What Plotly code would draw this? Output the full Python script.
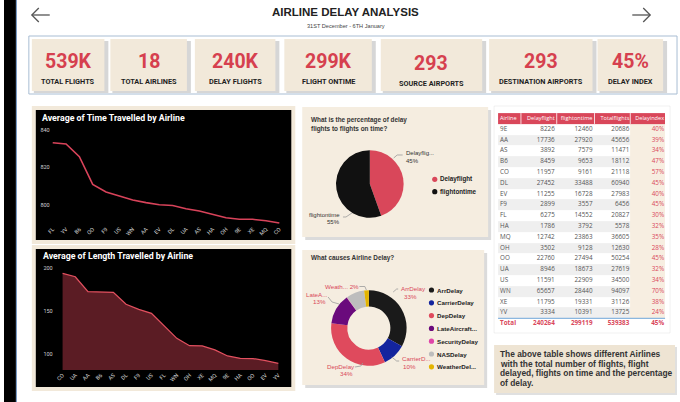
import plotly.graph_objects as go

W, H = 680, 402

# ---- data ----
kpi_values = ["539K", "18", "240K", "299K", "293", "293", "45%"]
kpi_labels = ["TOTAL FLIGHTS", "TOTAL AIRLINES", "DELAY FLIGHTS", "FLIGHT ONTIME",
              "SOURCE AIRPORTS", "DESTINATION AIRPORTS", "DELAY INDEX"]

time_airlines = ["FL", "YV", "B6", "OO", "F9", "US", "WN", "AA", "EV", "DL",
                 "UA", "AS", "HA", "OH", "9E", "XE", "MQ", "CO"]
time_avg = [833.2, 832.6, 825.8, 811.0, 807.0, 804.9, 802.7, 801.3, 800.2, 799.8,
            798.0, 796.8, 795.2, 793.2, 792.4, 792.4, 791.6, 790.4]

length_airlines = ["CO", "UA", "AA", "B6", "AS", "DL", "F9", "US", "FL", "WN",
                   "OH", "XE", "MQ", "9E", "HA", "OO", "EV", "YV"]
length_avg = [194.2, 190.2, 172.7, 172.7, 172.0, 158.0, 152.0, 147.4, 132.6, 118.2,
              109.6, 109.3, 104.6, 97.6, 94.9, 94.6, 92.1, 89.0]

flight_status = ["Delayflight", "flightontime"]
flight_counts = [240264, 299119]

delay_causes = ["ArrDelay", "CarrierDelay", "DepDelay", "LateAircraftDelay",
                "SecurityDelay", "NASDelay", "WeatherDelay"]
cause_legend = ["ArrDelay", "CarrierDelay", "DepDelay", "LateAircraft...",
                "SecurityDelay", "NASDelay", "WeatherDel..."]
delay_share = [33, 10, 34, 13, 0.2, 7.8, 2]

table_airline = ["9E", "AA", "AS", "B6", "CO", "DL", "EV", "F9", "FL", "HA",
                 "MQ", "OH", "OO", "UA", "US", "WN", "XE", "YV"]
table_delay = [8226, 17736, 3892, 8459, 11957, 27452, 11255, 2899, 6275, 1786,
               12742, 3502, 22760, 8946, 11591, 65657, 11795, 3334]
table_ontime = [12460, 27920, 7579, 9653, 9161, 33488, 16728, 3557, 14552, 3792,
                23863, 9128, 27494, 18673, 22909, 28440, 19331, 10391]
table_total = [20686, 45656, 11471, 18112, 21118, 60940, 27983, 6456, 20827, 5578,
               36605, 12630, 50254, 27619, 34500, 94097, 31126, 13725]
table_index = [40, 39, 34, 47, 57, 45, 40, 45, 30, 32,
               35, 28, 45, 32, 34, 70, 38, 24]
table_headers = ["Airline", "Delayflight", "flightontime", "Totalflights", "Delayindex"]

RED = "#d9475a"
BEIGE = "#f2e9da"
ROBOTO = "Roboto, sans-serif"
ARIAL = "Liberation Sans, Arial, sans-serif"
SEGOE = "Open Sans, sans-serif"


def X(px):
    return px / W


def Y(py):
    return 1 - py / H


shapes = []
annotations = []


def box(x0, y0, x1, y1, fill, line=None, layer="below"):
    shapes.append(dict(type="rect", xref="paper", yref="paper",
                       x0=X(x0), x1=X(x1), y0=Y(y1), y1=Y(y0),
                       fillcolor=fill, layer=layer,
                       line=dict(width=1 if line else 0, color=line or fill)))


def path(points, color="#9a9a9a", width=0.8):
    d = "M " + " L ".join(f"{X(a):.5f},{Y(b):.5f}" for a, b in points)
    shapes.append(dict(type="path", xref="paper", yref="paper", path=d,
                       line=dict(color=color, width=width), layer="above"))


def dot(cx, cy, color, r=2.6):
    shapes.append(dict(type="circle", xref="paper", yref="paper",
                       x0=X(cx - r), x1=X(cx + r), y0=Y(cy + r), y1=Y(cy - r),
                       fillcolor=color, line=dict(width=0), layer="above"))


def label(x, y, text, size, color="#333", family=ARIAL, xanchor="center"):
    annotations.append(dict(x=X(x), y=Y(y), xref="paper", yref="paper", text=text,
                            showarrow=False, xanchor=xanchor, yanchor="middle",
                            font=dict(size=size, color=color, family=family)))


# ---- page chrome ----
box(0, 0, 12, H, "black")
shapes.append(dict(type="line", xref="paper", yref="paper", x0=X(12.5), x1=X(12.5),
                   y0=0, y1=1, line=dict(color="#6f93c2", width=1)))

for pts in ([(46, 15), (28, 15)], [(35, 8), (28, 15), (35, 22)],
            [(632, 15), (650, 15)], [(643, 8), (650, 15), (643, 22)]):
    path(pts, color="#555555", width=1.3)

label(344, 12, "<b>AIRLINE DELAY ANALYSIS</b>", 11.5, "#222")
label(344, 26, "31ST December - 6TH January", 5.6, "#444")

# KPI band
box(25, 36, 677, 94, "white", line="#a8bdd3")
cards = [(28, 101), (107, 184), (192, 273), (282, 370), (379, 481), (488, 592), (597, 663)]
for i, (x0, x1) in enumerate(cards):
    box(x0 + 2, 41, x1 + 4, 93, "rgba(0,0,0,0.16)")
    box(x0, 39, x1, 91, BEIGE)
    dy = 2 if i == 4 else 0
    cx = (x0 + x1) / 2
    label(cx, 61 + dy, f"<b>{kpi_values[i]}</b>", 19.5, "#d6404f", ROBOTO)
    label(cx, 81 + dy, f"<b>{kpi_labels[i]}</b>", 7.3, "#1e1e1e", ROBOTO)

# left chart frames
box(28, 106, 293, 244, BEIGE)
box(32, 110, 289, 240, "black")
box(28, 245, 293, 391, BEIGE)
box(32, 249, 289, 387, "black")
label(36, 118, "<b>Average of Time Travelled by Airline</b>", 8.8, "white", ROBOTO, "left")
label(37, 256, "<b>Average of Length Travelled by Airline</b>", 8.8, "white", ROBOTO, "left")

# middle panels
box(303, 110, 490, 240, "rgba(0,0,0,0.14)")
box(300, 107, 487, 237, "#f5ede0")
box(303, 253, 486, 388, "rgba(0,0,0,0.14)")
box(300, 250, 483, 385, "#f5ede0")
label(307, 120, "<b>What is the percentage of delay</b>", 6.4, "#333", ARIAL, "left")
label(307, 129, "<b>flights to flights on time?</b>", 6.4, "#333", ARIAL, "left")
label(307, 258, "<b>What causes Airline Delay?</b>", 6.4, "#333", ARIAL, "left")

# table panel and note
box(493, 106, 670, 333, "white", line="rgba(0,0,0,0.06)")
box(495, 347, 677, 395, "rgba(0,0,0,0.12)")
box(493, 345, 675, 393, "#eee4d3")
note = ["The above table shows different Airlines",
        "with the total number of flights, flight",
        "delayed, flights on time and the percentage",
        "of delay."]
for k, line in enumerate(note):
    label(497, 354 + k * 9.7, f"<b>{line}</b>", 8.4, "#333", ARIAL, "left")

fig = go.Figure()

# line chart
fig.add_trace(go.Scatter(x=time_airlines, y=time_avg, mode="lines",
                         line=dict(color="#d8435a", width=1.6),
                         xaxis="x", yaxis="y", hoverinfo="skip"))
# area chart
fig.add_trace(go.Scatter(x=length_airlines, y=length_avg, mode="lines", fill="tozeroy",
                         fillcolor="#5b1c24", line=dict(color="#e2505f", width=1.3),
                         xaxis="x2", yaxis="y2", hoverinfo="skip"))

# pie
fig.add_trace(go.Pie(labels=flight_status, values=flight_counts, sort=False,
                     direction="clockwise", rotation=0, textinfo="none",
                     marker=dict(colors=[RED, "#111111"], line=dict(width=0)),
                     domain=dict(x=[X(334), X(402)], y=[Y(218), Y(150)]),
                     hoverinfo="skip", showlegend=False))
pct = [round(100 * v / sum(flight_counts)) for v in flight_counts]
label(402, 153, "Delayflig...", 6, "#333", ARIAL, "left")
label(402, 161, f"{pct[0]}%", 6, "#333", ARIAL, "left")
label(340, 215, "flightontime", 6, "#333", ARIAL, "right")
label(340, 222.5, f"{pct[1]}%", 6, "#333", ARIAL, "right")
path([(392, 158), (395.5, 155), (401, 155)])
path([(341, 217), (344, 217), (350, 213)])
for k, (name, col) in enumerate(zip(flight_status, [RED, "#111111"])):
    dot(433.3, 179.3 + k * 12.4, col)
    label(437, 179.3 + k * 12.4, f"<b>{name}</b>", 6.3, "#222", ARIAL, "left")

# donut
cause_colors = ["#1a1a1a", "#13249e", "#df4a5d", "#6a0a7c", "#e045a8", "#bdbdbd", "#e3b400"]
fig.add_trace(go.Pie(labels=delay_causes, values=delay_share, sort=False, hole=0.57,
                     direction="clockwise", rotation=0, textinfo="none",
                     marker=dict(colors=cause_colors, line=dict(width=0)),
                     domain=dict(x=[X(329), X(405)], y=[Y(366), Y(290)]),
                     hoverinfo="skip", showlegend=False))
lab = "#d9475a"
label(397, 288, "ArrDelay", 6.2, lab, ARIAL, "left")
label(409, 296, f"{delay_share[0]:.0f}%", 6.2, lab, ARIAL)
path([(391.5, 292), (395, 289), (396.5, 289)])
label(398, 358, "CarrierD...", 6.2, lab, ARIAL, "left")
label(408, 366.5, f"{delay_share[1]:.0f}%", 6.2, lab, ARIAL)
path([(390, 357), (395, 361), (397.5, 361)])
label(339, 366, "DepDelay", 6.2, lab, ARIAL)
label(345, 373.5, f"{delay_share[2]:.0f}%", 6.2, lab, ARIAL)
path([(353, 367), (359, 366), (361, 363)])
label(315, 294, "LateA...", 6.2, lab, ARIAL)
label(317, 301.5, f"{delay_share[3]:.0f}%", 6.2, lab, ARIAL)
path([(326, 297), (330, 302), (337, 304)])
label(339.5, 286.5, f"Weath... {delay_share[6]:.0f}%", 6.2, lab, ARIAL)
path([(357.5, 286.5), (363, 286.5), (364.5, 290)])
for k, (name, col) in enumerate(zip(cause_legend, cause_colors)):
    dot(430, 290 + k * 12.8, col)
    label(434, 290 + k * 12.8, f"<b>{name}</b>", 6.2, "#222", ARIAL, "left")

# table: cell backgrounds as a heatmap, values as text
n = len(table_airline)
col_edges = [497, 520, 556, 594, 630, 665]
col_anchor = [499, 554, 592, 629, 664]
rows = [[table_airline[i], str(table_delay[i]), str(table_ontime[i]),
         str(table_total[i]), f"{table_index[i]}%"] for i in range(n)]
total_row = ["Total", str(sum(table_delay)), str(sum(table_ontime)), str(sum(table_total)),
             f"{round(100 * sum(table_delay) / sum(table_total))}%"]

z = [[3] * 5] + [[i % 2] * 4 + [2] for i in range(n)] + [[0] * 5]
fig.add_trace(go.Heatmap(z=z, x=col_edges, y=list(range(-1, n + 1)), zmin=0, zmax=3,
                         colorscale=[[0, "#ffffff"], [0.25, "#ffffff"], [0.25, "#efefef"],
                                     [0.5, "#efefef"], [0.5, "#f7eee1"], [0.75, "#f7eee1"],
                                     [0.75, "#d9475a"], [1, "#d9475a"]],
                         showscale=False, hoverinfo="skip", xaxis="x3", yaxis="y3"))

tx, ty, tt, tp, tc, ts = [], [], [], [], [], []
all_rows = [table_headers] + rows + [total_row]
for r, row in enumerate(all_rows):
    for c, val in enumerate(row):
        tx.append(col_anchor[c])
        ty.append(r - 1)
        tp.append("middle right" if c == 0 else "middle left")
        if r == 0:
            tt.append(val); tc.append("white"); ts.append(5.6)
        elif r == len(all_rows) - 1:
            tt.append(f"<b>{val}</b>"); tc.append(RED); ts.append(6.3)
        else:
            tt.append(val); tc.append(RED if c == 4 else "#555555"); ts.append(6.3)
fig.add_trace(go.Scatter(x=tx, y=ty, text=tt, mode="text", textposition=tp,
                         textfont=dict(color=tc, size=ts, family=SEGOE),
                         xaxis="x3", yaxis="y3", hoverinfo="skip"))

row_top, row_h = 113.1, 10.8
for xe in col_edges[1:-1]:
    shapes.append(dict(type="line", xref="paper", yref="paper", x0=X(xe), x1=X(xe),
                       y0=Y(row_top + row_h), y1=Y(row_top), line=dict(color="white", width=0.8),
                       layer="above"))
shapes.append(dict(type="line", xref="paper", yref="paper", x0=X(497), x1=X(665),
                   y0=Y(row_top + row_h * (n + 1)), y1=Y(row_top + row_h * (n + 1)),
                   line=dict(color="#6fa6d9", width=1), layer="above"))

axis_common = dict(showgrid=False, zeroline=False, showline=False, ticks="", fixedrange=True)
tick_font = dict(size=5.5, color="#d0d0d0", family=ROBOTO)
fig.update_layout(
    width=W, height=H, margin=dict(l=0, r=0, t=0, b=0),
    paper_bgcolor="white", plot_bgcolor="black", showlegend=False,
    xaxis=dict(domain=[X(47), X(283)], range=[-0.15, 17.45], tickangle=-45,
               tickfont=tick_font, anchor="y", **axis_common),
    yaxis=dict(domain=[Y(224), Y(125)], range=[789.9, 842.7], tickvals=[800, 820, 840],
               tickfont=tick_font, anchor="x", **axis_common),
    xaxis2=dict(domain=[X(50), X(284)], range=[-0.7, 17.63], tickangle=-45,
                tickfont=tick_font, anchor="y2", **axis_common),
    yaxis2=dict(domain=[Y(370), Y(262)], range=[81.2, 207.4], tickvals=[100, 150, 200],
                tickfont=tick_font, anchor="x2", **axis_common),
    xaxis3=dict(domain=[X(497), X(665)], range=[497, 665], visible=False, anchor="y3",
                fixedrange=True),
    yaxis3=dict(domain=[Y(row_top + row_h * (n + 2)), Y(row_top)], range=[n + 0.5, -1.5],
                visible=False, anchor="x3", fixedrange=True),
    shapes=shapes, annotations=annotations,
)

# the page body has a default 8px margin; drop it so the figure fills the window
fig.write_html("out.html", config={"displayModeBar": False},
               post_script="document.body.style.margin = '0px';")
